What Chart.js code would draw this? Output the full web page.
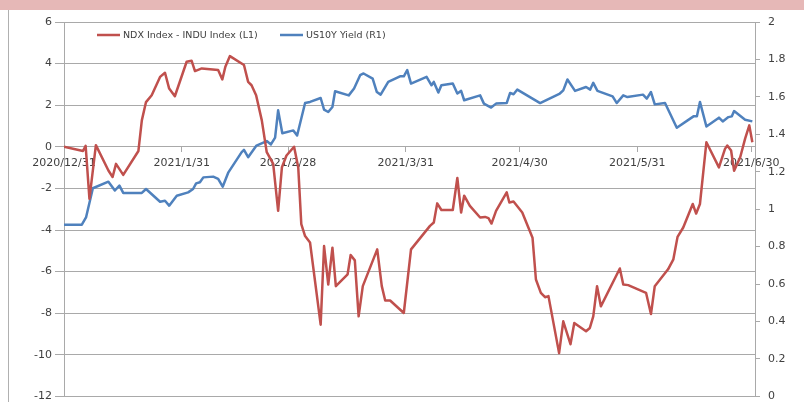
<!DOCTYPE html>
<html>
<head>
<meta charset="utf-8">
<script src="https://cdn.jsdelivr.net/npm/chart.js@4.4.0/dist/chart.umd.min.js"></script>
<style>
  html, body { margin: 0; padding: 0; background: #fff; }
  #wrap { position: relative; width: 804px; height: 402px; overflow: hidden; }
  #band { position: absolute; left: 0; top: 0; width: 804px; height: 10px; background: #e6b8b7; }
  #frame { position: absolute; left: 8px; top: 10px; width: 1px; height: 392px; background: #b0b0b0; }
  canvas { position: absolute; left: 0; top: 0; }
</style>
</head>
<body>
<div id="wrap">
  <div id="band"></div>
  <div id="frame"></div>
  <canvas id="chart" width="804" height="411"></canvas>
</div>
<script>
// series names
const seriesNames = ["NDX Index - INDU Index (L1)", "US10Y Yield (R1)"];

// NDX - INDU spread, x = days since 2020/12/31
const spreadDays = [0, 5.0, 5.7, 6.7, 8.4, 11.7, 12.8, 13.7, 15.6, 19.6, 20.5, 21.6, 23.1, 25.3, 26.6, 27.7, 29.2,
  32.3, 33.6, 34.5, 36.3, 40.6, 41.7, 42.5, 43.7, 47.4, 48.5, 49.4, 50.6, 52.1, 53.4, 55.1, 56.4, 57.4, 58.6,
  60.6, 61.7, 62.5, 63.5, 64.8, 67.6, 68.5, 69.6, 70.7, 71.6, 74.7, 75.5, 76.6, 77.6, 78.7, 82.5, 83.7, 84.6,
  85.9, 89.5, 91.4, 96.4, 97.4, 98.3, 99.4, 102.4, 103.6, 104.6, 105.4, 106.9, 109.6, 110.9, 111.8, 112.6,
  113.8, 116.6, 117.3, 118.4, 120.7, 123.4, 124.3, 125.6, 126.7, 127.6, 130.4, 131.5, 133.4, 134.4, 137.5,
  138.5, 139.4, 140.4, 141.4, 146.4, 147.3, 148.6, 153.3, 154.6, 155.6, 159.1, 160.5, 161.6, 163.1, 165.6,
  166.5, 167.5, 169.2, 172.5, 174.1, 174.7, 175.7, 176.5, 178.1, 179.4, 180.5, 181.3];
const spreadValues = [0, -0.2, 0.05, -2.5, 0.08, -1.14, -1.45, -0.82, -1.35, -0.2, 1.27, 2.15, 2.48, 3.36, 3.56, 2.8, 2.43,
  4.09, 4.14, 3.64, 3.77, 3.69, 3.24, 3.85, 4.36, 3.93, 3.12, 2.96, 2.48, 1.27, -0.26, -0.82, -3.08, -0.98, -0.42,
  0.0, -1.0, -3.72, -4.29, -4.6, -8.55, -4.77, -6.62, -4.85, -6.7, -6.13, -5.2, -5.46, -8.15, -6.7, -4.93, -6.7, -7.39,
  -7.39, -7.99, -4.93, -3.8, -3.64, -2.72, -3.04, -3.04, -1.5, -3.16, -2.35, -2.84, -3.4, -3.37, -3.43, -3.69,
  -3.08, -2.19, -2.68, -2.63, -3.16, -4.37, -6.38, -7.02, -7.23, -7.18, -9.92, -8.39, -9.49, -8.47, -8.87,
  -8.71, -8.15, -6.7, -7.67, -5.85, -6.62, -6.65, -7.02, -8.04, -6.7, -5.89, -5.41, -4.33, -3.88, -2.75,
  -3.21, -2.75, 0.22, -0.99, -0.1, 0.06, -0.18, -1.15, -0.5, 0.39, 1.03, 0.22];

// US 10Y yield
const yieldDays = [0, 4.7, 5.8, 7.6, 11.7, 13.4, 14.6, 15.6, 20.5, 21.6, 25.3, 26.6, 27.7, 29.7, 32.7, 34.0, 34.8,
  35.8, 36.7, 39.3, 40.6, 41.8, 43.3, 46.8, 47.4, 48.5, 50.7, 53.4, 54.5, 55.6, 56.4, 57.5, 60.4, 61.4, 63.5,
  64.8, 67.6, 68.5, 69.6, 70.7, 71.4, 75.0, 76.4, 78.0, 78.9, 81.3, 82.4, 83.4, 85.4, 88.5, 89.5, 90.4, 91.4,
  95.5, 96.8, 97.4, 98.6, 99.4, 102.4, 103.6, 104.6, 105.4, 109.6, 110.6, 112.5, 113.8, 116.6, 117.5, 118.4,
  119.4, 125.4, 130.6, 131.5, 132.6, 134.6, 137.5, 138.6, 139.4, 140.5, 144.5, 145.6, 147.3, 148.4, 152.5,
  153.5, 154.6, 155.6, 158.3, 161.4, 165.8, 166.7, 167.5, 169.2, 172.5, 173.5, 175.0, 175.9, 176.5, 179.4, 181.3];
const yieldValues = [0.917, 0.917, 0.956, 1.112, 1.147, 1.1, 1.126, 1.087, 1.087, 1.108, 1.04, 1.045, 1.019, 1.072, 1.09, 1.108, 1.138,
  1.144, 1.17, 1.174, 1.162, 1.12, 1.197, 1.305, 1.317, 1.278, 1.34, 1.364, 1.346, 1.382, 1.528, 1.406, 1.421, 1.394, 1.567,
  1.573, 1.594, 1.532, 1.519, 1.546, 1.63, 1.608, 1.645, 1.716, 1.725, 1.698, 1.626, 1.612, 1.68, 1.71, 1.71, 1.743, 1.671,
  1.707, 1.662, 1.68, 1.623, 1.662, 1.671, 1.618, 1.632, 1.582, 1.608, 1.564, 1.543, 1.564, 1.567, 1.621, 1.614,
  1.639, 1.567, 1.618, 1.635, 1.693, 1.632, 1.653, 1.639, 1.675, 1.632, 1.603, 1.567, 1.608, 1.599, 1.612,
  1.591, 1.626, 1.56, 1.567, 1.435, 1.496, 1.496, 1.573, 1.442, 1.489, 1.469, 1.492, 1.496, 1.524, 1.478, 1.469];

// x axis tick labels (month ends)
const tickDays = [0, 31, 59, 90, 120, 151, 181];
const tickLabels = ["2020/12/31", "2021/1/31", "2021/2/28", "2021/3/31", "2021/4/30", "2021/5/31", "2021/6/30"];

const RED = "#c0504d";
const BLUE = "#4f81bd";
const GRID = "#a9a9a9";
const TEXT = "#404040";
const FONT = "'DejaVu Sans', sans-serif";

const toPoints = (xs, ys) => xs.map((x, i) => ({ x: x, y: ys[i] }));

// legend drawn inside the plot area, like the original
const plotLegend = {
    id: "plotLegend",
    afterDraw(chart) {
        const ctx = chart.ctx;
        const y = 35;
        const starts = [97, 280];
        ctx.save();
        ctx.font = "9.5px " + FONT;
        ctx.textBaseline = "middle";
        chart.data.datasets.forEach((ds, i) => {
            ctx.strokeStyle = ds.borderColor;
            ctx.lineWidth = 2.5;
            ctx.beginPath();
            ctx.moveTo(starts[i], y);
            ctx.lineTo(starts[i] + 23, y);
            ctx.stroke();
            ctx.fillStyle = TEXT;
            ctx.fillText(ds.label, starts[i] + 26, y + 0.5);
        });
        ctx.restore();
    },
};

const ctx = document.getElementById("chart").getContext("2d");
const chart = new Chart(ctx, {
    type: "line",
    data: {
        datasets: [
            {
                label: seriesNames[0],
                data: toPoints(spreadDays, spreadValues),
                borderColor: RED,
                borderWidth: 2.5,
                pointRadius: 0,
                tension: 0,
                borderJoinStyle: "round",
                yAxisID: "y",
            },
            {
                label: seriesNames[1],
                data: toPoints(yieldDays, yieldValues),
                borderColor: BLUE,
                borderWidth: 2.5,
                pointRadius: 0,
                tension: 0,
                borderJoinStyle: "round",
                yAxisID: "y1",
            },
        ],
    },
    options: {
        responsive: false,
        animation: false,
        layout: { padding: { left: 0, right: 0, top: 22, bottom: 7 } },
        plugins: {
            legend: { display: false },
            tooltip: { enabled: false },
        },
        scales: {
            x: {
                type: "linear",
                position: { y: 0 },
                min: 0,
                max: 182,
                afterBuildTicks: (scale) => {
                    scale.ticks = tickDays.map((d) => ({ value: d }));
                },
                ticks: {
                    autoSkip: false,
                    maxRotation: 0,
                    padding: 5,
                    color: TEXT,
                    font: { family: FONT, size: 11 },
                    callback: (value) => tickLabels[tickDays.indexOf(value)],
                },
                grid: { drawOnChartArea: false, tickLength: 5, color: GRID },
                border: { color: GRID },
            },
            y: {
                position: "left",
                min: -12,
                max: 6,
                afterFit: (scale) => { scale.width = 64; },
                ticks: {
                    stepSize: 2,
                    padding: 3,
                    color: TEXT,
                    font: { family: FONT, size: 11 },
                },
                grid: { color: GRID, tickLength: 9 },
                border: { color: GRID },
            },
            y1: {
                position: "right",
                min: 0,
                max: 2,
                afterFit: (scale) => { scale.width = 49; },
                ticks: {
                    stepSize: 0.2,
                    padding: 8,
                    color: TEXT,
                    font: { family: FONT, size: 11 },
                    callback: (v) => String(+v.toFixed(1)),
                },
                grid: { drawOnChartArea: false, tickLength: 5, color: GRID },
                border: { color: GRID },
            },
        },
    },
    plugins: [plotLegend],
});
</script>
</body>
</html>
